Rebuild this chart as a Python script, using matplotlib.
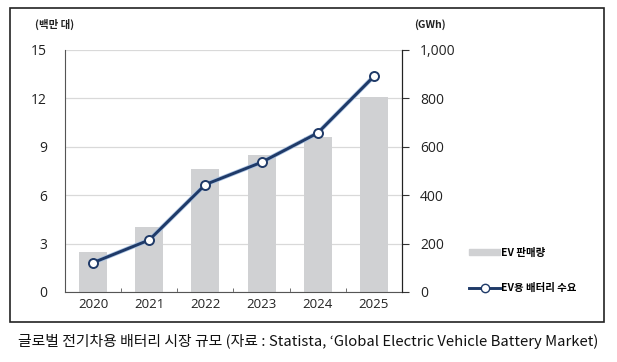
import matplotlib.pyplot as plt
from matplotlib.patches import Rectangle
from matplotlib.lines import Line2D

plt.rcParams['font.family'] = ['Noto Sans CJK KR', 'DejaVu Sans']

years = ['2020', '2021', '2022', '2023', '2024', '2025']
ev_sales = [2.5, 4.0, 7.6, 8.5, 9.6, 12.1]          # 백만 대
battery_demand = [121, 215, 444, 536, 657, 891]     # GWh

bar_color = '#d0d1d3'
line_color = '#1f3a68'
tick_font = ['Open Sans', 'DejaVu Sans']

fig = plt.figure(figsize=(6.17, 3.62), dpi=100)
ax = fig.add_axes([0.1053, 0.1934, 0.5462, 0.6685])
ax2 = ax.twinx()

x = range(len(years))
ax.bar(x, ev_sales, width=0.5, color=bar_color, zorder=2)
ax.set_ylim(0, 15)
ax.set_yticks([0, 3, 6, 9, 12, 15])
ax.set_xlim(-0.5, 5.5)
ax.set_xticks(list(x))
ax.set_xticklabels(years)
ax.set_xticks([i + 0.5 for i in range(5)], minor=True)
ax.grid(axis='y', color='#d9d9d9', linewidth=0.9, zorder=0)
ax.set_axisbelow(True)
ax.tick_params(axis='x', which='major', length=0, pad=4, labelsize=9.5, colors='#222222')
ax.tick_params(axis='x', which='minor', length=3, direction='in', color='#555555')
ax.tick_params(axis='y', length=0, pad=13, labelsize=10, colors='#222222')
ax.spines['top'].set_visible(False)
ax.spines['left'].set_color('#555555')
ax.spines['bottom'].set_color('#555555')

ax2.plot(x, battery_demand, color='#a9c2e2', linewidth=3.2, zorder=3, solid_capstyle='round')
ax2.plot(x, battery_demand, color=line_color, linewidth=2.1, marker='o', markersize=6.5,
         markerfacecolor='white', markeredgecolor=line_color, markeredgewidth=1.4, zorder=4)
ax2.set_ylim(0, 1000)
ax2.set_yticks([0, 200, 400, 600, 800, 1000])
ax2.set_yticklabels(['0', '200', '400', '600', '800', '1,000'])
ax2.tick_params(axis='y', length=5, direction='out', pad=8, labelsize=10, colors='#222222')
ax2.tick_params(axis='y', color='#333333')
ax2.spines['top'].set_visible(False)
ax2.spines['left'].set_visible(False)
ax2.spines['bottom'].set_visible(False)
ax2.spines['right'].set_color('#222222')
ax2.set_zorder(ax.get_zorder() + 1)
ax2.patch.set_visible(False)

for lab in ax.get_xticklabels() + ax.get_yticklabels() + ax2.get_yticklabels():
    lab.set_family(tick_font)

fig.text(0.056, 0.933, '(백만 대)', fontsize=7.5, fontweight='bold', color='#222222', va='center')
fig.text(0.672, 0.933, '(GWh)', fontsize=7.5, fontweight='bold', color='#222222', va='center')

handles = [Rectangle((0, 0), 1, 1, color=bar_color),
           Line2D([0], [0], color=line_color, linewidth=2.1, marker='o', markersize=6,
                  markerfacecolor='white', markeredgecolor=line_color)]
fig.legend(handles, ['EV 판매량', 'EV용 배터리 수요'], loc='center left',
           bbox_to_anchor=(0.745, 0.253), frameon=False, labelspacing=2.4,
           handlelength=3.0, handleheight=0.5, handletextpad=0.1,
           prop={'size': 7.5, 'weight': 'bold'})

fig.patches.append(Rectangle((0.016, 0.11), 0.963, 0.868, transform=fig.transFigure,
                             fill=False, edgecolor='#222222', linewidth=1.2))

fig.text(0.5, 0.057, "글로벌 전기차용 배터리 시장 규모 (자료 : Statista, ‘Global Electric Vehicle Battery Market)",
         fontsize=10.7, ha='center', va='center', color='#111111')

fig.savefig('out.png', dpi=100)
